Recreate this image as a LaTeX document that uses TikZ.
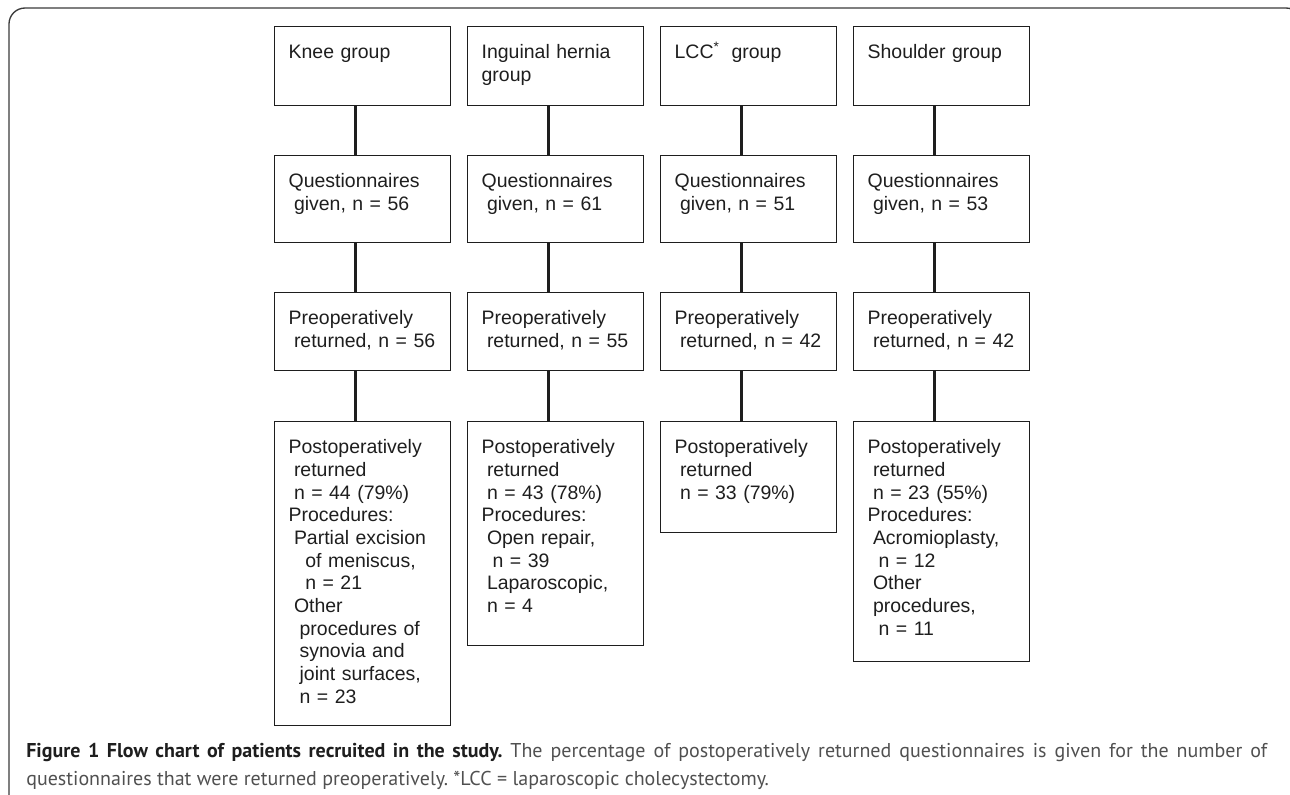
\documentclass[tikz,border=0pt]{standalone}
\usepackage{fontspec}
\setmainfont{Liberation Sans}
\newfontfamily\capfont{PT Sans}

\definecolor{boxline}{HTML}{1E1E1E}
\definecolor{frameline}{HTML}{3A3A3A}
\definecolor{captext}{HTML}{505050}

% indents used inside the boxes
\newcommand\indA{\hspace*{4pt}}
\newcommand\indB{\hspace*{8.25pt}}
\newcommand\indC{\hspace*{12.5pt}}

\tikzset{
  flowbox/.style={draw=boxline, line width=1pt, anchor=north west,
    inner xsep=10.5pt, inner ysep=0pt, text width=111pt, align=left,
    text height=24pt, text=boxline,
    font=\fontsize{14.6}{17}\selectfont},
  link/.style={draw=boxline, line width=1.8pt},
}

\begin{document}
\begin{tikzpicture}[x=0.75pt,y=-0.75pt]
        \useasboundingbox (0,0) rectangle (1290,794);
        % outer frame
        \draw[frameline, line width=1pt, rounded corners=12] (9,800) -- (9,8) -- (1302,8) -- (1302,60);
        % group boxes
        \node[flowbox, text depth=35.25pt] (knee1) at (274,26) {Knee group};
        \node[flowbox, text depth=35.25pt] (hern1) at (467,26) {Inguinal hernia\\group};
        \node[flowbox, text depth=35.25pt] (lcc1) at (660,26) {LCC\textsuperscript{*}\hspace*{9pt}group};
        \node[flowbox, text depth=35.25pt] (shld1) at (853,26) {Shoulder group};
        % questionnaires given
        \node[flowbox, text depth=41.25pt] (knee2) at (274,155) {Questionnaires\\\indA given, n = 56};
        \node[flowbox, text depth=41.25pt] (hern2) at (467,155) {Questionnaires\\\indA given, n = 61};
        \node[flowbox, text depth=41.25pt] (lcc2) at (660,155) {Questionnaires\\\indA given, n = 51};
        \node[flowbox, text depth=41.25pt] (shld2) at (853,155) {Questionnaires\\\indA given, n = 53};
        % preoperatively returned
        \node[flowbox, text depth=34.5pt] (knee3) at (274,292) {Preoperatively\\\indA returned, n = 56};
        \node[flowbox, text depth=34.5pt] (hern3) at (467,292) {Preoperatively\\\indA returned, n = 55};
        \node[flowbox, text depth=34.5pt] (lcc3) at (660,292) {Preoperatively\\\indA returned, n = 42};
        \node[flowbox, text depth=34.5pt] (shld3) at (853,292) {Preoperatively\\\indA returned, n = 42};
        % postoperatively returned
        \node[flowbox, text depth=204pt] (knee4) at (274,421) {Postoperatively\\\indA returned\\\indA n = 44 (79\%)\\Procedures:\\\indA Partial excision\\\indC of meniscus,\\\indC n = 21\\\indA Other\\\indB procedures of\\\indB synovia and\\\indB joint surfaces,\\\indB n = 23};
        \node[flowbox, text depth=144pt] (hern4) at (467,421) {Postoperatively\\\indA returned\\\indA n = 43 (78\%)\\Procedures:\\\indA Open repair,\\\indB n = 39\\\indA Laparoscopic,\\\indA n = 4};
        \node[flowbox, text depth=59.25pt] (lcc4) at (660,421) {Postoperatively\\\indA returned\\\indA n = 33 (79\%)};
        \node[flowbox, text depth=156pt] (shld4) at (853,421) {Postoperatively\\\indA returned\\\indA n = 23 (55\%)\\Procedures:\\\indA Acromioplasty,\\\indB n = 12\\\indA Other\\\indA procedures,\\\indB n = 11};
        % connectors
        \foreach \c in {knee,hern,lcc,shld}
          \foreach \r/\s in {1/2,2/3,3/4}
            \draw[link] ([xshift=-5.25pt]\c\r.south) -- ([xshift=-5.25pt]\c\s.north);
        % caption
        \node[anchor=base west, inner sep=0pt, text width=930.75pt, align=justify, text=captext,
          font=\capfont\fontsize{15}{21}\selectfont] (caption) at (26,757)
          {\frenchspacing\hyphenpenalty=10000\textcolor{boxline}{\textbf{Figure 1 Flow chart of patients recruited in the study.}} The percentage of postoperatively returned questionnaires is given for the number of\linebreak questionnaires that were returned preoperatively. *LCC = laparoscopic cholecystectomy.};
    \end{tikzpicture}
\end{document}
